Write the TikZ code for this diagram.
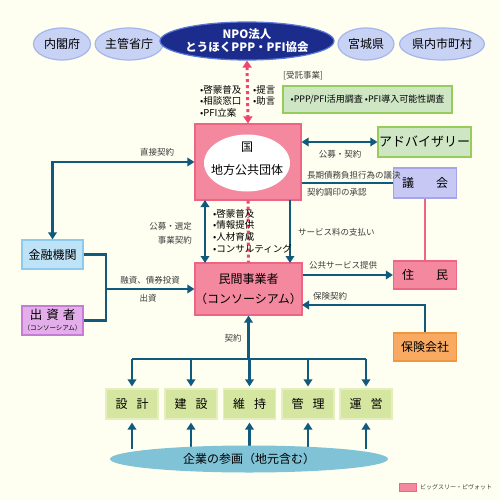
\documentclass[tikz,border=0pt]{standalone}
\usepackage{fontspec}
\setmainfont{Noto Sans CJK JP}
\usetikzlibrary{arrows.meta,shapes.geometric}
\definecolor{bgc}{RGB}{254,255,240}
\definecolor{arc}{RGB}{16,90,125}
\definecolor{pinkf}{RGB}{244,136,158}
\definecolor{pinkd}{RGB}{238,100,132}
\definecolor{dotp}{RGB}{240,70,110}
\definecolor{lavf}{RGB}{200,210,245}
\definecolor{lavd}{RGB}{165,182,238}
\definecolor{navy}{RGB}{28,44,140}
\definecolor{navyd}{RGB}{90,120,215}
\definecolor{grf}{RGB}{206,230,196}
\definecolor{grd}{RGB}{150,204,90}
\definecolor{gkf}{RGB}{200,200,245}
\definecolor{gkd}{RGB}{165,165,235}
\definecolor{knf}{RGB}{190,227,247}
\definecolor{knd}{RGB}{140,203,239}
\definecolor{ssf}{RGB}{228,174,234}
\definecolor{ssd}{RGB}{197,124,212}
\definecolor{hkf}{RGB}{249,170,98}
\definecolor{hkd}{RGB}{240,150,60}
\definecolor{trf}{RGB}{213,230,160}
\definecolor{trd}{RGB}{228,238,190}
\definecolor{kgf}{RGB}{128,194,214}
\definecolor{lbl}{RGB}{60,60,60}
\tikzset{
  oval/.style={ellipse, fill=lavf, draw=lavd, line width=1.2pt, inner sep=0pt, font=\fontsize{12}{14}\selectfont},
  boxn/.style={rectangle, line width=1.2pt, inner sep=0pt, font=\fontsize{12}{14}\selectfont},
  pinkbox/.style={boxn, fill=pinkf, draw=pinkd},
  treebox/.style={boxn, fill=trf, draw=trd, minimum width=52pt, minimum height=30pt},
  conn/.style={draw=arc, line width=2.6pt},
  arr/.style={conn, -{Triangle[length=7pt,width=8.5pt]}},
  darr/.style={conn, {Triangle[length=7pt,width=8.5pt]}-{Triangle[length=7pt,width=8.5pt]}},
  lab/.style={text=lbl, inner sep=0pt, font=\fontsize{8.5}{10}\selectfont},
  blist/.style={inner sep=0pt, anchor=north west, align=left, text=black, font=\fontsize{9.5}{11.7}\selectfont},
}
\begin{document}
\begin{tikzpicture}[x=1pt,y=-1pt]
\fill[bgc] (0,0) rectangle (500,500);
\useasboundingbox (0,0) rectangle (500,500);
% top ellipses
\node[oval, minimum width=57pt, minimum height=32pt] (naikaku) at (62,44) {内閣府};
\node[oval, minimum width=57pt, minimum height=32pt] (shukan) at (129,44) {主管省庁};
\node[oval, minimum width=56pt, minimum height=32pt] (miyagi) at (366,44) {宮城県};
\node[oval, minimum width=72pt, minimum height=32pt] (kennai) at (442,44) {県内市町村};
\node[ellipse, fill=navy, draw=navyd, line width=1.2pt, inner sep=0pt, minimum width=146pt, minimum height=38pt, text=white, align=center, font=\bfseries\fontsize{11.5}{13}\selectfont] (npo) at (247,41) {NPO法人\\とうほくPPP・PFI協会};
% kuni
\node[pinkbox, minimum width=106pt, minimum height=76pt] (koku) at (248,162) {};
\node[ellipse, fill=white, inner sep=0pt, minimum width=86pt, minimum height=57pt] (kokuov) at (247,163) {};
\node[inner sep=0pt, font=\fontsize{12}{14}\selectfont] (kokut1) at (247,147) {国};
\node[inner sep=0pt, font=\fontsize{12}{14}\selectfont] (kokut2) at (247,170) {地方公共団体};
% minkan
\node[pinkbox, minimum width=107pt, minimum height=52pt, align=center, font=\fontsize{12}{20}\selectfont] (minkan) at (248.5,289) {民間事業者\\（コンソーシアム）};
% dotted link
\draw[dotp, line width=3pt, dash pattern=on 3pt off 3pt, {Triangle[length=7pt,width=9pt]}-{Triangle[length=7pt,width=9pt]}] (npo.south) -- (koku.north);
\draw[dotp, line width=3pt, dash pattern=on 3pt off 3pt] (koku.south) -- (minkan.north);
\node[blist] (l1) at (200,85) {•啓蒙普及\\•相談窓口\\•PFI立案};
\node[blist] (l2) at (253,85) {•提言\\•助言};
% jutaku
\node[lab, anchor=west, font=\fontsize{8.5}{10}\selectfont] (jt) at (283,76) {[受託事業]};
\node[boxn, fill=grf, draw=grd, minimum width=169pt, minimum height=27pt, font=\fontsize{9}{11}\selectfont] (jutaku) at (367.5,99.5) {•PPP/PFI活用調査 •PFI導入可能性調査};
% advisory
\node[boxn, fill=grf, draw=grd, minimum width=93pt, minimum height=30pt, font=\fontsize{13}{15}\selectfont] (adv) at (424.5,142) {アドバイザリー};
\draw[darr] (adv.west -| koku.east) -- (adv.west);
\node[lab] (lkk) at (340,154) {公募・契約};
% gikai
\node[boxn, fill=gkf, draw=gkd, minimum width=63pt, minimum height=30pt] (gikai) at (425,183) {議\hspace{22pt}会};
\draw[conn] (gikai.west -| koku.east) -- (gikai.west);
\node[lab, anchor=west] (lg1) at (307,175) {長期債務負担行為の議決};
\node[lab, anchor=west] (lg2) at (307,192) {契約調印の承認};
% jumin
\node[pinkbox, minimum width=63pt, minimum height=28pt] (jumin) at (425,275) {住\hspace{22pt}民};
\draw[pinkd, line width=2.6pt] (gikai.south) -- (jumin.north);
\draw[arr] (jumin.west -| minkan.east) -- (jumin.west);
\node[lab] (lks) at (343,265) {公共サービス提供};
% hoken
\node[boxn, fill=hkf, draw=hkd, minimum width=63pt, minimum height=28pt] (hoken) at (425,347) {保険会社};
\coordinate (hkin) at (302,305);
\draw[arr] (hoken.north) |- (hkin);
\node[lab] (lhk) at (330,296) {保険契約};
% vertical links kuni-minkan
\coordinate (sv1) at (290,200);
\coordinate (sv2) at (290,263);
\draw[arr] (sv1) -- (sv2);
\node[lab, anchor=west] (lsv) at (298,232) {サービス料の支払い};
\coordinate (kb1) at (205,200);
\coordinate (kb2) at (205,263);
\draw[darr] (kb1) -- (kb2);
\node[lab, anchor=east, align=right, font=\fontsize{8.5}{14}\selectfont] (lkb) at (192,233) {公募・選定\\事業契約};
\node[blist] (l3) at (213,209) {•啓蒙普及\\•情報提供\\•人材育成\\•コンサルティング};
% kinyu, shussi
\node[boxn, fill=knf, draw=knd, minimum width=61pt, minimum height=29pt] (kinyu) at (52.5,254.5) {金融機関};
\node[boxn, fill=ssf, draw=ssd, minimum width=61pt, minimum height=29pt, align=center] (shussi) at (52.5,320.5) {\fontsize{12.5}{14}\selectfont 出\hspace{4pt}資\hspace{4pt}者\\[-3pt]\fontsize{6.5}{7}\selectfont（コンソーシアム）};
\draw[darr] (kinyu.north) |- (koku.west);
\node[lab] (lcc) at (157,152) {直接契約};
\coordinate (fj) at (106,289);
\draw[conn] (kinyu.east) -| (fj);
\draw[conn] (shussi.east) -| (fj);
\draw[arr] (fj) -- (minkan.west);
\node[lab] (lyu) at (150,280) {融資、債券投資};
\node[lab] (lsh) at (148,298) {出資};
% tree
\node[treebox] (t1) at (132,404) {設\hspace{9pt}計};
\node[treebox] (t2) at (191,404) {建\hspace{9pt}設};
\node[treebox] (t3) at (249.5,404) {維\hspace{9pt}持};
\node[treebox] (t4) at (308,404) {管\hspace{9pt}理};
\node[treebox] (t5) at (366,404) {運\hspace{9pt}営};
\coordinate (tj) at (248.5,359);
\coordinate (tl) at (132,359);
\coordinate (tr) at (366,359);
\draw[arr] (tj) -- (minkan.south);
\node[lab] (lky) at (233,338) {契約};
\draw[conn] (tl) -- (tr);
\foreach \t in {t1,t2,t3,t4,t5}{\draw[arr, shorten >=2pt] (\t.north |- tj) -- (\t.north);}
\coordinate (kgtop) at (249,449);
\foreach \t in {t1,t2,t3,t4,t5}{\draw[arr, shorten >=3pt] (\t.south |- kgtop) -- (\t.south);}
\node[ellipse, fill=kgf, inner sep=0pt, minimum width=278pt, minimum height=27pt, font=\fontsize{12}{14}\selectfont] (kigyo) at (249,459) {企業の参画（地元含む）};
% legend
\node[rectangle, fill=pinkf, draw=pinkd, line width=0.8pt, minimum width=17pt, minimum height=8pt, inner sep=0pt] (lgb) at (407.5,487) {};
\node[lab, anchor=west, font=\fontsize{6}{7}\selectfont] (lgt) at (420,487) {ビッグスリー・ピヴォット};
\end{tikzpicture}
\end{document}
